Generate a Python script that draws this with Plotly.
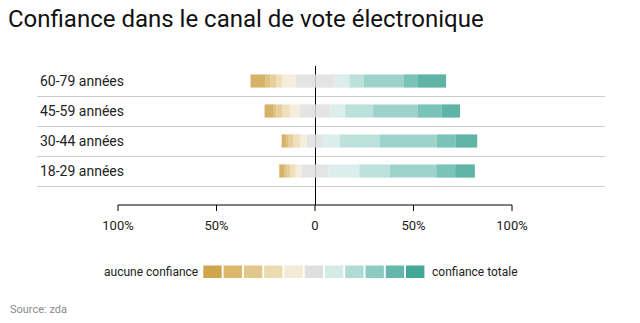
import plotly.graph_objects as go

# ---- data -------------------------------------------------------------
categories = ["18-29 années", "30-44 années", "45-59 années", "60-79 années"]

# share (%) of answers per confidence level 0 (aucune) .. 10 (totale)
level_0 = [2.7, 2.2, 4.6, 7.6]
level_1 = [1.2, 0.9, 1.4, 2.4]
level_2 = [1.7, 2.9, 3.0, 3.2]
level_3 = [2.7, 3.3, 3.8, 3.0]
level_4 = [3.0, 3.5, 4.9, 6.6]
level_5 = [13.7, 8.3, 15.8, 19.9]
level_6 = [15.7, 8.3, 7.4, 7.6]
level_7 = [15.4, 20.3, 14.2, 7.3]
level_8 = [23.6, 29.0, 22.6, 20.3]
level_9 = [9.6, 9.6, 12.2, 7.1]
level_10 = [10.0, 11.0, 9.3, 14.3]

tick_vals = [-100, -50, 0, 50, 100]
tick_text = ["100%", "50%", "0", "50%", "100%"]

legend_left = "aucune confiance"
legend_right = "confiance totale"
title_text = "Confiance dans le canal de vote électronique"
source_text = "Source: zda"

colors = ["#cfa54e", "#dab86b", "#e2c78c", "#ecdab0", "#f4ebd6", "#dfdfdf",
          "#d5ebe7", "#b0dbd4", "#8ccbc1", "#63b8ab", "#43a796"]

levels = [level_0, level_1, level_2, level_3, level_4, level_5,
          level_6, level_7, level_8, level_9, level_10]

FONT = "Roboto"
W, H = 640, 323
ML, MR, MT, MB = 37, 35, 66, 118
PW, PH = W - ML - MR, H - MT - MB
ZERO_PX, PX_PER = 315, 1.97
x_range = [(ML - ZERO_PX) / PX_PER, (W - MR - ZERO_PX) / PX_PER]

fig = go.Figure()

def add_bar(vals, color):
    fig.add_trace(go.Bar(
        y=categories, x=vals, orientation="h", showlegend=False,
        marker=dict(color=color, opacity=0.85, line=dict(width=0)),
        hoverinfo="skip"))

# neutral level split around zero, then alternate outward
add_bar([-v / 2 for v in level_5], colors[5])
add_bar([v / 2 for v in level_5], colors[5])
for i in range(1, 6):
    add_bar([-v for v in levels[5 - i]], colors[5 - i])
    add_bar(levels[5 + i], colors[5 + i])

fig.update_layout(
    width=W, height=H, barmode="relative", bargap=0.56,
    margin=dict(l=ML, r=MR, t=MT, b=MB, pad=0),
    paper_bgcolor="white", plot_bgcolor="white",
    font=dict(family=FONT, color="#222222", size=12),
    title=dict(text=title_text, x=8 / W, xanchor="left", xref="container",
               y=1 - 19 / H, yanchor="middle", yref="container",
               font=dict(family=FONT, size=24, color="#111111")),
    xaxis=dict(range=x_range, tickvals=tick_vals, ticktext=tick_text,
               showgrid=False, zeroline=True, zerolinecolor="#000000",
               zerolinewidth=1, ticks="", ticklabelstandoff=11,
               showline=False,
               tickfont=dict(size=13, color="#222222")),
    yaxis=dict(type="category", categoryorder="array", categoryarray=categories,
               range=[-1.133, 3.5], showgrid=True, gridcolor="#cccccc",
               gridwidth=1, tickson="boundaries", ticks="",
               showticklabels=False, zeroline=False, showline=False),
)

# axis baseline between -100% and 100%, with tick marks (paper coords, unclipped)
def val_to_paper(v):
    return (v - x_range[0]) / (x_range[1] - x_range[0])

tick_y = -6 / PH
path = "M {a},0 L {b},0".format(a=val_to_paper(tick_vals[0]), b=val_to_paper(tick_vals[-1]))
for tv in tick_vals:
    p = val_to_paper(tv)
    path += " M {p},0 L {p},{t}".format(p=p, t=tick_y)
fig.add_shape(type="path", xref="paper", yref="paper", layer="above", path=path,
              line=dict(color="#000000", width=1))

# row labels, left aligned inside the plot area
for cat in categories:
    fig.add_annotation(text=cat, xref="paper", yref="y", x=(38 - ML) / PW, y=cat,
                       xanchor="left", yanchor="middle", showarrow=False,
                       font=dict(size=14, color="#222222"))

# custom colour legend
def px_x(px):
    return (px - ML) / PW

def px_y(py):
    return (H - MB - py) / PH

sw_x0, sw_step, sw_w = 203.3, 20.27, 18.4
sw_top, sw_bot = 265.5, 278
for i, c in enumerate(colors):
    x0 = sw_x0 + i * sw_step
    fig.add_shape(type="rect", xref="paper", yref="paper",
                  x0=px_x(x0), x1=px_x(x0 + sw_w), y0=px_y(sw_bot), y1=px_y(sw_top),
                  fillcolor=c, line=dict(width=0))

fig.add_annotation(text=legend_left, xref="paper", yref="paper",
                   x=px_x(199.5), y=px_y(271.5), xanchor="right", yanchor="middle",
                   showarrow=False, font=dict(size=12, color="#222222"))
fig.add_annotation(text=legend_right, xref="paper", yref="paper",
                   x=px_x(430), y=px_y(271.5), xanchor="left", yanchor="middle",
                   showarrow=False, font=dict(size=12, color="#222222"))
fig.add_annotation(text=source_text, xref="paper", yref="paper",
                   x=px_x(8), y=px_y(309), xanchor="left", yanchor="middle",
                   showarrow=False, font=dict(size=11, color="#8a8a8a"))

fig.write_html("out.html")
